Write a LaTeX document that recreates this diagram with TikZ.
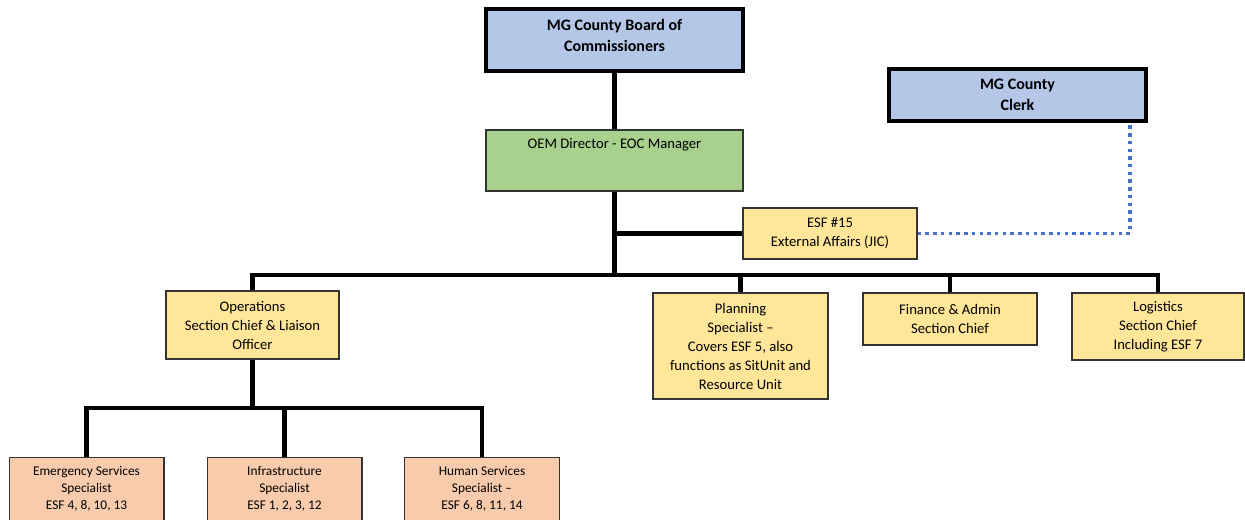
\documentclass[tikz,border=0pt]{standalone}
\usepackage{fontspec}
\setmainfont{Carlito}
\usetikzlibrary{calc,positioning}
\definecolor{headblue}{HTML}{B4C7E7}
\definecolor{mgrgreen}{HTML}{A9D18E}
\definecolor{unityellow}{HTML}{FFE699}
\definecolor{specsalmon}{HTML}{F8CBAD}
\definecolor{dotblue}{HTML}{4472C4}
\begin{document}
\begin{tikzpicture}[x=0.75pt, y=-0.75pt,
    box/.style={rectangle, draw=black!80, line width=1pt, align=center, inner sep=0pt,
        font=\fontsize{11}{14.25}\selectfont},
    headbox/.style={box, fill=headblue, draw=black, line width=3pt,
        font=\bfseries\fontsize{12}{15.5}\selectfont},
    unitbox/.style={box, fill=unityellow},
    specbox/.style={box, fill=specsalmon, minimum width=116pt, minimum height=70pt, anchor=north},
    toptext/.style={anchor=north, inner sep=0pt, align=center},
    link/.style={draw=black, line width=3.4pt},
    dotlink/.style={draw=dotblue, line width=2.6pt, dash pattern=on 2.6pt off 3.2pt}]
    \useasboundingbox (0,0) rectangle (1245,519);
    \clip (0,0) rectangle (1245,519);
    % top of the chart
    \node (board) [headbox, minimum width=192.75pt, minimum height=46.5pt,
        label={[toptext, yshift=-9pt, font=\bfseries\fontsize{12}{15.5}\selectfont]north:{MG County Board of\\ Commissioners}}] at (614.5,40) {};
    \node (clerk) [headbox, minimum width=192.75pt, minimum height=39pt] at (1017.5,95) {MG County\\ Clerk};
    \node (oem) [box, fill=mgrgreen, minimum width=192.75pt, minimum height=45.75pt,
        label={[toptext, yshift=-6.25pt, font=\fontsize{11}{14.25}\selectfont]north:OEM Director - EOC Manager}] at (614.5,160.5) {};
    \node (esf) [unitbox, minimum width=130.5pt, minimum height=38.25pt] at (830,233.5) {ESF \#15\\ External Affairs (JIC)};
    % section level
    \coordinate (bus) at (614.5,275);
    \node (ops) [unitbox, minimum width=129.75pt, minimum height=51pt] at (252.5,325) {Operations\\ Section Chief \& Liaison\\ Officer};
    \node (plan) [unitbox, minimum width=131.25pt, minimum height=79.5pt] at (740.5,346) {Planning\\ Specialist --\\ Covers ESF 5, also\\ functions as SitUnit and\\ Resource Unit};
    \node (fin) [unitbox, minimum width=130.5pt, minimum height=39pt] at (950,319) {Finance \& Admin\\ Section Chief};
    \node (log) [unitbox, minimum width=129pt, minimum height=50.25pt] at (1158,326.5) {Logistics\\ Section Chief\\ Including ESF 7};
    % specialists under operations
    \coordinate (opsbus) at (252.5,408);
    \node (emerg) [specbox, label={[toptext, yshift=-7pt, font=\fontsize{10}{12.75}\selectfont]north:{Emergency Services\\ Specialist\\ ESF 4, 8, 10, 13}}] at (86.5,457) {};
    \node (infra) [specbox, label={[toptext, yshift=-7pt, font=\fontsize{10}{12.75}\selectfont]north:{Infrastructure\\ Specialist\\ ESF 1, 2, 3, 12}}] at (284.5,457) {};
    \node (human) [specbox, label={[toptext, yshift=-7pt, font=\fontsize{10}{12.75}\selectfont]north:{Human Services\\ Specialist --\\ ESF 6, 8, 11, 14}}] at (482,457) {};
    % connectors
    \draw[link] (board) -- (oem);
    \draw[link] (oem) -- (bus);
    \draw[link] (oem.south |- esf.west) -- (esf.west);
    \draw[link] (ops) |- (bus) -| (log);
    \draw[link] (bus -| plan) -- (plan);
    \draw[link] (bus -| fin) -- (fin);
    \draw[link] (ops) -- (opsbus);
    \draw[link] (emerg) |- (opsbus) -| (human);
    \draw[link] (opsbus -| infra) -- (infra);
    \draw[dotlink] (esf.east) -| ([xshift=-13.5pt]clerk.south east);
\end{tikzpicture}
\end{document}
